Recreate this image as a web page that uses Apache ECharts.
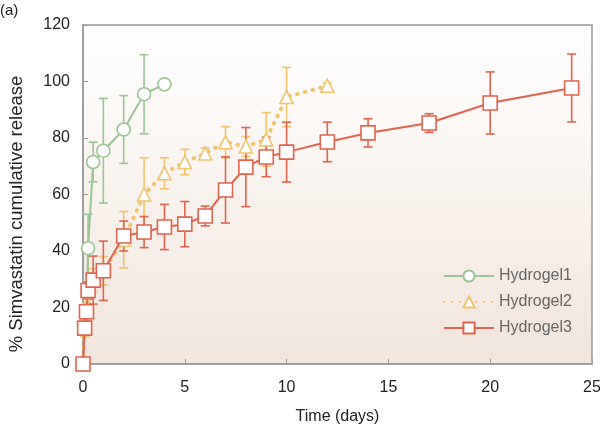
<!DOCTYPE html>
<html>
<head>
<meta charset="utf-8">
<script src="https://cdn.jsdelivr.net/npm/echarts@6/dist/echarts.min.js"></script>
<style>html,body{margin:0;padding:0;background:#fff}#c{width:600px;height:424px}</style>
</head>
<body>
<div id="c"></div>
<script>
// ---- data ----
var seriesNames = ['Hydrogel1', 'Hydrogel2', 'Hydrogel3'];
var days1 = [0, 0.08, 0.17, 0.25, 0.5, 1, 2, 3, 4];
var rel1  = [0, 12.7, 18.5, 41, 71.5, 75.5, 83, 95.5, 99];
var err1  = [0, 2, 3, 12, 7, 18.5, 12, 14, 0];

var days2 = [0, 0.08, 0.17, 0.25, 0.5, 1, 2, 3, 4, 5, 6, 7, 8, 9, 10, 12];
var rel2  = [0, 12.7, 18.5, 26, 29.7, 33, 44, 60, 67.5, 71.5, 74.5, 78.5, 77, 79.5, 94.5, 98.5];
var err2  = [0, 3, 3, 3, 4, 5, 10, 13, 5.5, 4.5, 2, 5.5, 3.5, 9.5, 10.5, 1];

var days3 = [0, 0.08, 0.17, 0.25, 0.5, 1, 2, 3, 4, 5, 6, 7, 8, 9, 10, 12, 14, 17, 20, 24];
var rel3  = [0, 12.7, 18.5, 26, 29.7, 33, 45.3, 46.7, 48.5, 49.5, 52.4, 61.6, 69.7, 73.3, 75, 78.6, 81.8, 85.3, 92.4, 97.7];
var err3  = [0, 2, 2, 3, 8.5, 10.5, 5.3, 5.5, 8, 8, 3.5, 11.7, 14, 7, 10.6, 7, 5, 3.3, 11, 12];

var colors = ['#9cc596', '#f2c46c', '#e0644e'];

function pts(d, v) { return d.map(function (x, i) { return [x, v[i]]; }); }
function errPts(d, v, e) { return d.map(function (x, i) { return [x, v[i], e[i]]; }); }

function errSeries(data, color) {
  return {
    type: 'custom',
    silent: true,
    z: 1,
    data: data,
    clip: false,
    renderItem: function (params, api) {
      var x = api.value(0), y = api.value(1), e = api.value(2);
      if (!e) return null;
      var top = api.coord([x, y + e]);
      var bot = api.coord([x, y - e]);
      var hw = 4.5;
      var style = { stroke: color, lineWidth: 1.6, fill: null };
      return {
        type: 'group',
        children: [
          { type: 'line', shape: { x1: top[0], y1: top[1], x2: bot[0], y2: bot[1] }, style: style },
          { type: 'line', shape: { x1: top[0] - hw, y1: top[1], x2: top[0] + hw, y2: top[1] }, style: style },
          { type: 'line', shape: { x1: bot[0] - hw, y1: bot[1], x2: bot[0] + hw, y2: bot[1] }, style: style }
        ]
      };
    }
  };
}

var chart = echarts.init(document.getElementById('c'), null, { renderer: 'canvas' });
var font = 'Liberation Sans, Arial, sans-serif';
chart.setOption({
  animation: false,
  textStyle: { fontFamily: font },
  grid: {
    left: 83, right: 8, top: 25, bottom: 60,
    outerBoundsMode: 'none',
    containLabel: false,
    show: true,
    borderColor: '#9a9a9a',
    borderWidth: 1.5,
    backgroundColor: new echarts.graphic.LinearGradient(0, 0, 0, 1, [
      { offset: 0, color: '#ffffff' },
      { offset: 1, color: '#f1e5dc' }
    ])
  },
  graphic: [{
    type: 'text', left: 0, top: 3,
    style: { text: '(a)', fontSize: 15, fill: '#222', fontFamily: font }
  }, {
    type: 'text', x: 17, y: 214, rotation: Math.PI / 2,
    style: {
      text: '% Simvastatin cumulative release', fontSize: 18.5, fill: '#222',
      fontFamily: font, align: 'center', verticalAlign: 'middle'
    }
  }],
  legend: {
    data: seriesNames,
    orient: 'vertical',
    left: 438, top: 263,
    itemWidth: 50, itemHeight: 14,
    itemGap: 10,
    textStyle: { color: '#666', fontSize: 16, fontFamily: font }
  },
  xAxis: {
    type: 'value', min: 0, max: 25, interval: 5,
    name: 'Time (days)', nameLocation: 'middle', nameGap: 45,
    nameTextStyle: { fontSize: 16, color: '#222' },
    axisLine: { lineStyle: { color: '#9a9a9a', width: 1.5 } },
    axisTick: { inside: true, length: 5, lineStyle: { color: '#9a9a9a' } },
    axisLabel: { fontSize: 16, color: '#222', margin: 16 },
    splitLine: { show: false }
  },
  yAxis: {
    type: 'value', min: 0, max: 120, interval: 20,
    axisLine: { show: true, lineStyle: { color: '#9a9a9a', width: 1.5 } },
    axisTick: { show: true, inside: true, length: 5, lineStyle: { color: '#9a9a9a' } },
    axisLabel: { fontSize: 16, color: '#222', margin: 13 },
    splitLine: { show: false }
  },
  series: [
    errSeries(errPts(days1, rel1, err1), colors[0]),
    errSeries(errPts(days2, rel2, err2), colors[1]),
    errSeries(errPts(days3, rel3, err3), colors[2]),
    {
      name: 'Hydrogel1', type: 'line', data: pts(days1, rel1), z: 3,
      clip: false,
      symbol: 'circle', symbolSize: 13, color: colors[0],
      itemStyle: { color: '#fff', borderColor: colors[0], borderWidth: 1.6 },
      lineStyle: { color: colors[0], width: 2 }
    },
    {
      name: 'Hydrogel2', type: 'line', data: pts(days2, rel2), z: 3,
      clip: false,
      symbol: 'triangle', symbolSize: 13, color: colors[1],
      itemStyle: { color: '#fff', borderColor: colors[1], borderWidth: 1.6 },
      lineStyle: { color: colors[1], width: 4, type: [0.5, 7.5], cap: 'round' }
    },
    {
      name: 'Hydrogel3', type: 'line', data: pts(days3, rel3), z: 4,
      clip: false,
      symbol: 'rect', symbolSize: 14, color: colors[2],
      itemStyle: { color: '#fff', borderColor: colors[2], borderWidth: 1.6 },
      lineStyle: { color: colors[2], width: 2 }
    }
  ]
});
</script>
</body>
</html>
